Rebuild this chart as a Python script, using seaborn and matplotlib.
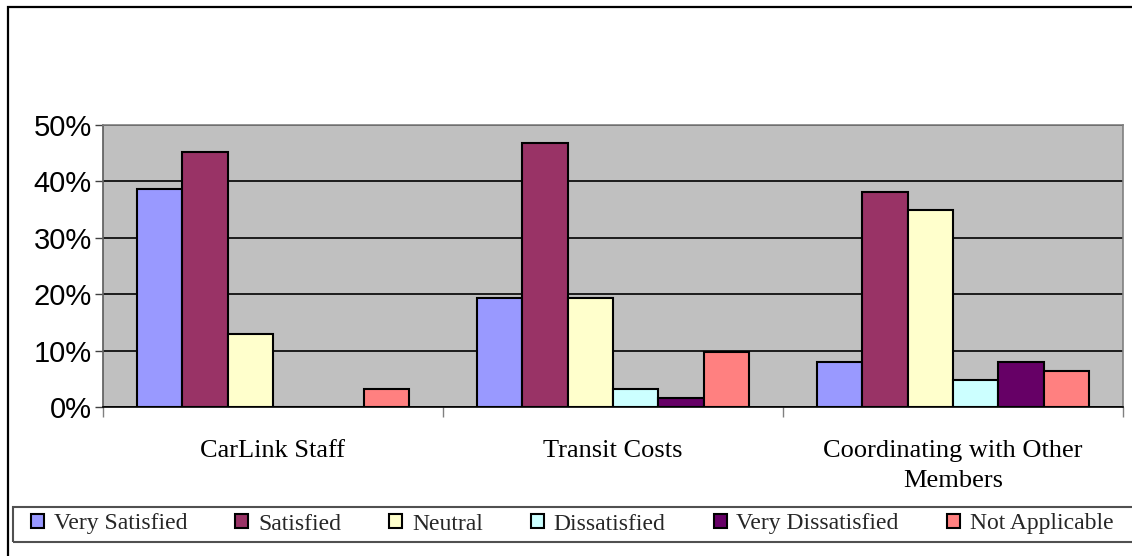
import seaborn as sns
import pandas as pd
import matplotlib.pyplot as plt
from matplotlib.patches import Rectangle
from matplotlib.ticker import PercentFormatter, FixedLocator

categories = ['CarLink Staff', 'Transit Costs', 'Coordinating with Other\nMembers']
responses = ['Very Satisfied', 'Satisfied', 'Neutral', 'Dissatisfied',
             'Very Dissatisfied', 'Not Applicable']
carlink_staff = [38.7, 45.2, 12.9, 0.0, 0.0, 3.2]
transit_costs = [19.4, 46.8, 19.4, 3.2, 1.6, 9.7]
coordinating = [7.9, 38.1, 34.9, 4.8, 7.9, 6.3]
colors = ['#9999FF', '#993366', '#FFFFCC', '#CCFFFF', '#660066', '#FF8080']


def show():
    rows = []
    for cat, vals in zip(categories, [carlink_staff, transit_costs, coordinating]):
        for resp, v in zip(responses, vals):
            rows.append({'category': cat, 'response': resp, 'pct': v})
    df = pd.DataFrame(rows)

    sns.set_theme(style='white', context='notebook')
    plt.rcParams['font.family'] = ['Liberation Serif']

    W, H = 1132, 556
    fig = plt.figure(figsize=(W / 100, H / 100), dpi=100)
    ax = fig.add_axes([103 / W, 1 - 407 / H, (1123 - 103) / W, (407 - 125) / H])
    ax.set_facecolor('#C0C0C0')

    sns.barplot(data=df, x='category', y='pct', hue='response', order=categories,
                hue_order=responses, palette=colors, saturation=1, edgecolor='black',
                linewidth=1.5, width=0.8, ax=ax, zorder=3)

    ax.set_ylim(0, 50)
    ax.set_xlim(-0.5, 2.5)
    ax.yaxis.set_major_locator(FixedLocator([0, 10, 20, 30, 40, 50]))
    ax.yaxis.set_major_formatter(PercentFormatter(decimals=0))
    ax.grid(axis='y', color='black', linewidth=1.2, zorder=1)
    ax.set_axisbelow(True)
    ax.set_xlabel('')
    ax.set_ylabel('')

    for lab in ax.get_yticklabels():
        lab.set_family('Liberation Sans')
        lab.set_fontsize(21)
        lab.set_color('black')
    for lab in ax.get_xticklabels():
        lab.set_linespacing(1.45)
        lab.set_color('black')
    ax.tick_params(axis='y', which='major', direction='out', length=6,
                   width=1, color='#404040', left=True, pad=2)
    ax.tick_params(axis='x', which='major', length=0, labelsize=19, pad=24)
    ax.set_xticks([-0.5, 0.5, 1.5, 2.5], minor=True)
    ax.tick_params(axis='x', which='minor', direction='out', length=7,
                   width=1, color='#808080', bottom=True)

    for side in ['top', 'right']:
        ax.spines[side].set_color('#808080')
        ax.spines[side].set_linewidth(1.2)
    ax.spines['left'].set_color('#606060')
    ax.spines['bottom'].set_color('black')
    ax.spines['bottom'].set_linewidth(1.2)

    handles, labels = ax.get_legend_handles_labels()
    ax.get_legend().remove()
    leg = fig.legend(handles, labels, ncol=6, loc='center left',
                     bbox_to_anchor=(31 / W, 1 - 524 / H), fontsize=17,
                     frameon=False, handlelength=0.55, handleheight=0.55,
                     handletextpad=0.42, columnspacing=2.03,
                     borderpad=0, borderaxespad=0)
    for h in leg.legend_handles:
        h.set_edgecolor('black')
        h.set_linewidth(1.5)

    # legend frame and outer chart border, both run off the right edge
    fig.patches.append(Rectangle((13 / W, 1 - 542 / H), 1.02, 35 / H,
                                 transform=fig.transFigure, fill=False,
                                 edgecolor='#505050', linewidth=1.5))
    fig.patches.append(Rectangle((8 / W, -0.05), 1.05, 1.05 - 7 / H,
                                 transform=fig.transFigure, fill=False,
                                 edgecolor='black', linewidth=1.6))

    fig.savefig('out.png', dpi=100, facecolor='white')


if __name__ == '__main__':
    show()
